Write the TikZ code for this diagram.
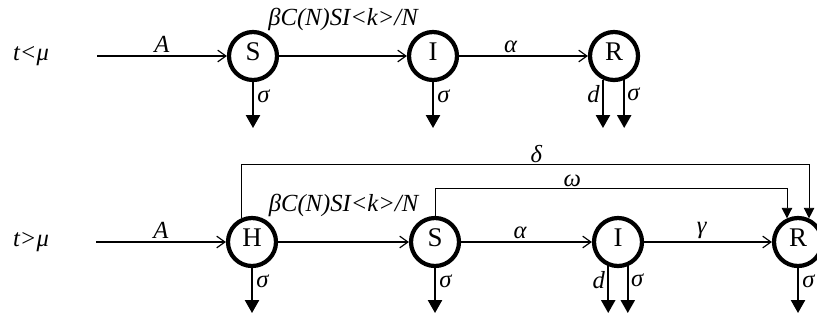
\documentclass[tikz,border=0pt]{standalone}
\usepackage{fontspec}
\setmainfont{Liberation Serif}
\usetikzlibrary{arrows.meta,calc}

\tikzset{
  compart/.style={circle, draw, line width=3.6pt, minimum size=1.44cm, inner sep=0pt,
    fill=white, text depth=7pt, font=\fontsize{23}{25}\selectfont},
  flow/.style={line width=1.6pt, -{Straight Barb[length=7pt,width=10pt,line width=1pt]}},
  loss/.style={line width=1.6pt, -{Triangle[length=11pt,width=12pt]}},
  jump/.style={line width=0.8pt, -{Triangle[length=9pt,width=9pt]}},
  lab/.style={font=\fontsize{21}{23}\selectfont\itshape, inner sep=1pt},
}

\begin{document}
\begin{tikzpicture}[x=0.03cm, y=-0.03cm]
\useasboundingbox (0,0) rectangle (817,323);

% t < mu
\node[lab] (t1) at (31,56) {t<μ};
\node[compart] (S1) at (253,56) {S};
\node[compart] (I1) at (433,56) {I};
\node[compart] (R1) at (614,56) {R};
\coordinate (in1) at (97,56);
\coordinate (low1) at (0,128);

\draw[flow] (in1) -- (S1) node[lab, midway, above=1pt] {A};
\draw[flow] (S1) -- (I1) node[lab, midway, above=20pt] {βC(N)SI<k>/N};
\draw[flow] (I1) -- (R1) node[lab, pos=0.4, above=1pt] {α};

\draw[loss] (S1) -- (S1 |- low1) node[lab, pos=0.3, right=2pt] {σ};
\draw[loss] (I1) -- (I1 |- low1) node[lab, pos=0.3, right=2pt] {σ};
\draw[loss] (R1.-115) -- (R1.-115 |- low1) node[lab, pos=0.3, left=1pt] {d};
\draw[loss] (R1.-67) -- (R1.-67 |- low1) node[lab, pos=0.3, right=1pt] {σ};

% t > mu
\node[lab] (t2) at (31,242) {t>μ};
\node[compart] (H2) at (252,242) {H};
\node[compart] (S2) at (435,242) {S};
\node[compart] (I2) at (618,242) {I};
\node[compart] (R2) at (798,242) {R};
\coordinate (in2) at (96,242);
\coordinate (low2) at (0,313);

\draw[flow] (in2) -- (H2) node[lab, midway, above=1pt] {A};
\draw[flow] (H2) -- (S2) node[lab, midway, above=20pt] {βC(N)SI<k>/N};
\draw[flow] (S2) -- (I2) node[lab, pos=0.45, above=1pt] {α};
\draw[flow] (I2) -- (R2) node[lab, pos=0.45, above=1pt] {γ};

\draw[loss] (H2) -- (H2 |- low2) node[lab, pos=0.3, right=2pt] {σ};
\draw[loss] (S2) -- (S2 |- low2) node[lab, pos=0.3, right=2pt] {σ};
\draw[loss] (I2.-112) -- (I2.-112 |- low2) node[lab, pos=0.3, left=1pt] {d};
\draw[loss] (I2.-68) -- (I2.-68 |- low2) node[lab, pos=0.3, right=1pt] {σ};
\draw[loss] (R2) -- (R2 |- low2) node[lab, pos=0.3, right=2pt] {σ};

\coordinate (dtop) at ($(R2.65)+(0,-54)$);
\coordinate (wtop) at ($(R2.115)+(0,-30)$);
\draw[jump] (H2.115) |- (dtop) node[lab, pos=0.76, above=0pt] {δ} -- (R2.65);
\draw[jump] (S2) |- (wtop) node[lab, pos=0.695, above=0pt] {ω} -- (R2.115);
\end{tikzpicture}
\end{document}
